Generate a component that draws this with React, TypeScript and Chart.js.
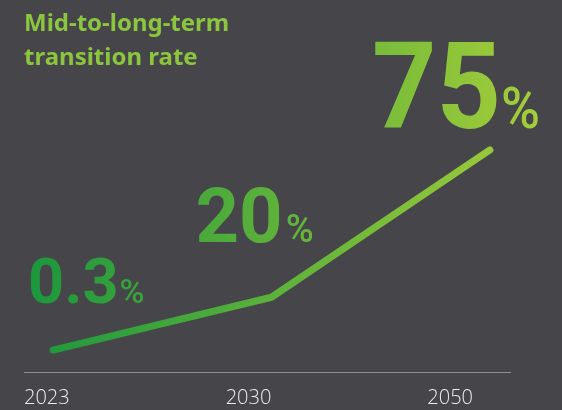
import React, { useEffect, useRef } from "react";
import { Chart, registerables } from "chart.js";

Chart.register(...registerables);

// ---- data ----
const categories = ["2023", "2030", "2050"];
const values = [0.3, 20, 75];
const titleLines = ["Mid-to-long-term", "transition rate"];
const valueSuffix = "%";

// ---- styles ----
const BG = "#46454a";
const TITLE_COLOR = "#8cc63f";
const GRAD_START = "#18963d";
const GRAD_END = "#a6ce39";
const AXIS_COLOR = "#8f8f92";
const TICK_COLOR = "#ececec";

const labelStyles = [
  { size: 63, pctSize: 34, dx: -25, dy: -47, sx: 1.0, gap: 1 },
  { size: 76, pctSize: 38, dx: -76, dy: -55, sx: 1.0, gap: 3 },
  { size: 121, pctSize: 57, dx: -118, dy: -22, sx: 0.93, gap: 0 },
];

const valueLabelPlugin = {
  id: "valueLabels",
  afterDatasetsDraw(chart: any) {
    const { ctx } = chart;
    const meta = chart.getDatasetMeta(0);
    meta.data.forEach((pt: any, i: number) => {
      const st = labelStyles[i];
      const txt = String(values[i]);
      const x0 = pt.x + st.dx;
      const y0 = pt.y + st.dy;
      ctx.save();
      ctx.translate(x0, y0);
      ctx.scale(st.sx, 1);
      const g = ctx.createLinearGradient((20 - x0) / st.sx, 0, (545 - x0) / st.sx, 0);
      g.addColorStop(0, GRAD_START);
      g.addColorStop(1, GRAD_END);
      ctx.fillStyle = g;
      ctx.textAlign = "left";
      ctx.textBaseline = "alphabetic";
      ctx.font = `700 ${st.size}px Roboto`;
      ctx.fillText(txt, 0, 0);
      const w = ctx.measureText(txt).width;
      ctx.font = `500 ${st.pctSize}px Roboto`;
      ctx.fillText(valueSuffix, w + st.gap, 0);
      ctx.restore();
    });
  },
};

export default function App() {
  const ref = useRef<HTMLCanvasElement | null>(null);

  useEffect(() => {
    document.body.style.margin = "0";
    document.body.style.background = BG;
    const canvas = ref.current!;
    const chart = new Chart(canvas, {
      type: "line",
      data: {
        datasets: [
          {
            data: values.map((v, i) => ({ x: i, y: v })),
            borderWidth: 7,
            borderCapStyle: "round",
            borderJoinStyle: "round",
            pointRadius: 0,
            tension: 0,
            fill: false,
            borderColor: (c: any) => {
              const area = c.chart.chartArea;
              if (!area) return GRAD_START;
              const g = c.chart.ctx.createLinearGradient(20, 0, 545, 0);
              g.addColorStop(0, GRAD_START);
              g.addColorStop(1, GRAD_END);
              return g;
            },
          },
        ],
      },
      options: {
        responsive: false,
        animation: false,
        layout: { padding: { left: 24, right: 52, top: 0, bottom: -14 } },
        plugins: {
          legend: { display: false },
          tooltip: { enabled: false },
          title: {
            display: true,
            text: titleLines,
            align: "start",
            color: TITLE_COLOR,
            font: { family: "'Noto Sans'", size: 24, weight: "bold", lineHeight: 1.42 },
            padding: { top: 7, bottom: 7 },
          },
        },
        scales: {
          x: {
            type: "linear",
            display: false,
            min: -0.133,
            max: 2.092,
          },
          xl: {
            type: "linear",
            position: "bottom",
            min: 0,
            max: 2.165,
            afterBuildTicks: (axis: any) => {
              axis.ticks = categories.map((_, i) => ({ value: i }));
            },
            ticks: {
              align: "inner",
              autoSkip: false,
              maxRotation: 0,
              padding: 14,
              color: TICK_COLOR,
              font: { family: "'Open Sans'", size: 20, weight: 300 },
              callback: (v: any) => categories[v] ?? "",
            },
            grid: { display: false, drawTicks: false },
            border: { display: true, color: AXIS_COLOR, width: 1 },
          },
          y: {
            display: false,
            min: -7.9,
            max: 100.3,
          },
        },
      },
      plugins: [valueLabelPlugin],
    } as any);
    return () => chart.destroy();
  }, []);

  return (
    <div style={{ position: "fixed", left: 0, top: 0, width: 562, height: 410, background: BG, overflow: "hidden" }}>
      <canvas ref={ref} width={562} height={410} style={{ display: "block" }} />
    </div>
  );
}
